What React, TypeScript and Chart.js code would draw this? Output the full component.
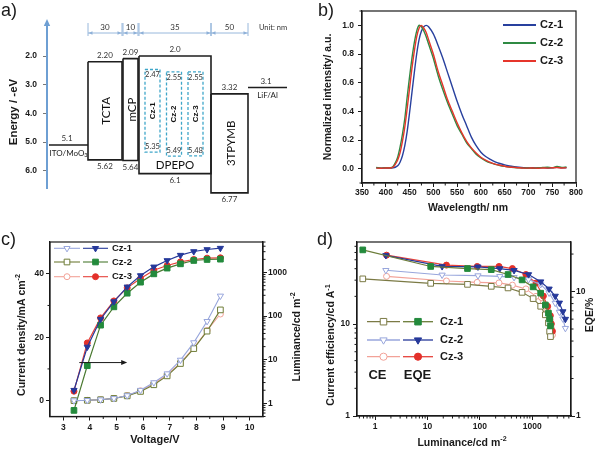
import React, { useEffect, useRef } from "react";
import { Chart, registerables } from "chart.js";

Chart.register(...registerables);

const SANS = '"Liberation Sans", Arial, Helvetica, sans-serif';
const HUM = 'Lato, "Open Sans", "Liberation Sans", sans-serif';
const INK = "#1a1a1a";

/* ================= a) energy level diagram ================= */
const layerNames = ["ITO/MoO_{3}", "TCTA", "mCP", "DPEPO", "3TPYMB", "LiF/Al"];
const layerLumo = [5.1, 2.2, 2.09, 2.0, 3.32, 3.1];
const layerHomo: (number | null)[] = [null, 5.62, 5.64, 6.1, 6.77, null];
const lumoLabels = ["5.1", "2.20", "2.09", "2.0", "3.32", "3.1"];
const homoLabels = ["", "5.62", "5.64", "6.1", "6.77", ""];
const layerThickness: (number | null)[] = [null, 30, 10, 35, 50, null];
const layerSpan = [39, 34, 15, 72, 37, 39]; // schematic widths
const layerGap = [0, 0, 1, 1, 0, 0];
const emitterNames = ["Cz-1", "Cz-2", "Cz-3"];
const emitterLumo = [2.47, 2.55, 2.55];
const emitterHomo = [5.35, 5.49, 5.48];
const emitterLumoLabels = ["2.47", "2.55", "2.55"];
const emitterHomoLabels = ["5.35", "5.49", "5.48"];
const energyTicks = [2, 3, 4, 5, 6];

/* ================= b) EL spectra ================= */
const wavelengths = [380, 390, 400, 410, 415, 420, 425, 430, 435, 440, 445, 450, 455, 460, 465, 470, 475, 480, 485, 490,
  500, 510, 520, 530, 540, 550, 560, 570, 580, 590, 600, 610, 620, 630, 640, 650, 660, 670, 680, 690, 700, 710, 720, 730, 740, 750, 760, 770, 780];
const specCz1 = [0.006, 0.004, 0.005, 0.004, 0.006, 0.01, 0.02, 0.045, 0.09, 0.16, 0.26, 0.39, 0.53, 0.67, 0.8, 0.9, 0.96, 0.99, 1.0, 0.99,
  0.94, 0.86, 0.77, 0.67, 0.57, 0.47, 0.38, 0.3, 0.22, 0.16, 0.115, 0.085, 0.065, 0.048, 0.036, 0.026, 0.019, 0.014, 0.01, 0.007, 0.005, 0.006, 0.004, 0.007, 0.005, 0.006, 0.009, 0.006, 0.007];
const specCz2 = [0.008, 0.004, 0.007, 0.006, 0.014, 0.04, 0.08, 0.15, 0.24, 0.35, 0.5, 0.64, 0.77, 0.88, 0.96, 1.0, 0.99, 0.96, 0.92, 0.87,
  0.77, 0.65, 0.55, 0.46, 0.38, 0.3, 0.24, 0.18, 0.14, 0.1, 0.075, 0.055, 0.04, 0.03, 0.022, 0.016, 0.011, 0.008, 0.006, 0.004, 0.005, 0.003, 0.006, 0.008, 0.01, 0.007, 0.015, 0.009, 0.012];
const specCz3 = [0.004, 0.003, 0.005, 0.005, 0.01, 0.03, 0.06, 0.11, 0.19, 0.29, 0.42, 0.56, 0.7, 0.82, 0.92, 0.98, 1.0, 0.98, 0.95, 0.9,
  0.8, 0.68, 0.58, 0.48, 0.4, 0.32, 0.25, 0.19, 0.145, 0.11, 0.08, 0.06, 0.044, 0.032, 0.024, 0.017, 0.012, 0.009, 0.006, 0.004, 0.004, 0.005, 0.003, 0.005, 0.004, 0.006, 0.008, 0.005, 0.006];
const bXTicks = [350, 400, 450, 500, 550, 600, 650, 700, 750, 800];
const bYTicks = [0, 0.2, 0.4, 0.6, 0.8, 1.0];

/* ================= c) J-V-L ================= */
const voltage = [3.4, 3.9, 4.4, 4.9, 5.4, 5.9, 6.4, 6.9, 7.4, 7.9, 8.4, 8.9];
const jCz1 = [0.0, 0.1, 0.3, 0.7, 1.6, 3.3, 5.7, 8.5, 12.8, 18.3, 25.0, 33.0];
const jCz2 = [0.0, 0.1, 0.3, 0.7, 1.5, 2.9, 5.0, 7.8, 11.7, 16.4, 21.9, 28.6];
const jCz3 = [0.0, 0.1, 0.3, 0.7, 1.6, 3.1, 5.3, 8.1, 11.9, 16.6, 22.1, 27.3];
const lumCz1 = [2.0, 19.6, 85, 215, 468, 851, 1346, 1884, 2495, 3030, 3365, 3612];
const lumCz2 = [0.69, 7.3, 62, 163, 335, 599, 930, 1260, 1578, 1884, 1985, 2020];
const lumCz3 = [1.9, 24.3, 91, 223, 444, 728, 1130, 1445, 1754, 1985, 2133, 2172];
const cXTicks = [3, 4, 5, 6, 7, 8, 9, 10];
const cLeftTicks = [0, 20, 40];
const cRightTicks = [1, 10, 100, 1000];

/* ================= d) CE / EQE ================= */
const dLumCz1 = [0.58, 11.5, 58, 165, 345, 640, 1040, 1450, 1780, 2040, 2150, 2230];
const ceCz1 = [31, 27.7, 27, 25.7, 24.7, 22.1, 18.9, 15.6, 12.6, 10.3, 8.3, 7.3];
const eqeCz1 = [21.6, 15.9, 15.3, 15.0, 13.7, 12.4, 10.9, 9.7, 7.8, 6.7, 6.0, 5.3];
const dLumCz2 = [1.6, 19, 92, 240, 450, 850, 1450, 2100, 2750, 3300, 3850, 4300];
const ceCz2 = [38.4, 34.2, 33.6, 33.0, 32.2, 30.5, 27.0, 21.8, 16.9, 13.5, 11.4, 9.0];
const eqeCz2 = [19.5, 15.9, 15.8, 15.3, 14.8, 13.7, 12.0, 10.5, 9.2, 8.1, 6.9, 6.0];
const dLumCz3 = [1.65, 23, 89, 232, 418, 757, 1180, 1630, 1970, 2220, 2320, 2430];
const ceCz3 = [33.0, 29.4, 28.4, 28.0, 26.5, 24.1, 20.0, 16.9, 14.1, 11.1, 9.0, 7.6];
const eqeCz3 = [19.6, 16.3, 15.9, 15.9, 15.3, 13.7, 11.7, 9.2, 7.6, 6.4, 5.5, 4.8];
const dXTicks = [1, 10, 100, 1000];
const dLeftTicks = [1, 10];
const dRightTicks = [1, 10];

/* ================= helpers ================= */
function parseRich(s: string) {
  const segs: { t: string; k: number }[] = [];
  let i = 0;
  let buf = "";
  while (i < s.length) {
    if ((s[i] === "^" || s[i] === "_") && s[i + 1] === "{") {
      if (buf) segs.push({ t: buf, k: 0 });
      buf = "";
      const end = s.indexOf("}", i);
      segs.push({ t: s.slice(i + 2, end), k: s[i] === "^" ? 1 : -1 });
      i = end + 1;
    } else {
      buf += s[i];
      i++;
    }
  }
  if (buf) segs.push({ t: buf, k: 0 });
  return segs;
}

function drawText(ctx: any, s: string, x: number, y: number, o: any) {
  const segs = parseRich(s);
  const fam = o.family || SANS;
  const w = o.bold ? "bold " : "";
  const fontFor = (k: number) => `${w}${k ? o.size * 0.68 : o.size}px ${fam}`;
  let total = 0;
  const widths = segs.map((sg) => {
    ctx.font = fontFor(sg.k);
    const m = ctx.measureText(sg.t).width;
    total += m;
    return m;
  });
  ctx.save();
  ctx.translate(x, y);
  if (o.rot) ctx.rotate((o.rot * Math.PI) / 180);
  ctx.fillStyle = o.color || INK;
  ctx.textBaseline = "middle";
  ctx.textAlign = "left";
  let cx = o.align === "left" ? 0 : o.align === "right" ? -total : -total / 2;
  segs.forEach((sg, i) => {
    ctx.font = fontFor(sg.k);
    const dy = sg.k === 1 ? -o.size * 0.35 : sg.k === -1 ? o.size * 0.3 : 0;
    ctx.fillText(sg.t, cx, dy);
    cx += widths[i];
  });
  ctx.restore();
}

function arrowHead(ctx: any, x: number, y: number, ang: number, len: number, half: number, color: string) {
  ctx.save();
  ctx.translate(x, y);
  ctx.rotate(ang);
  ctx.beginPath();
  ctx.moveTo(0, 0);
  ctx.lineTo(-len, -half);
  ctx.lineTo(-len, half);
  ctx.closePath();
  ctx.fillStyle = color;
  ctx.fill();
  ctx.restore();
}

function frame(chart: any) {
  const { ctx, chartArea: a } = chart;
  ctx.save();
  ctx.strokeStyle = INK;
  ctx.lineWidth = 1.2;
  ctx.strokeRect(a.left, a.top, a.right - a.left, a.bottom - a.top);
  ctx.restore();
}

function minor(chart: any, id: string, vals: number[], side: string, len = 2.5) {
  const s = chart.scales[id];
  const { ctx, chartArea: a } = chart;
  ctx.save();
  ctx.strokeStyle = INK;
  ctx.lineWidth = 1;
  ctx.beginPath();
  vals.forEach((v) => {
    if (v < s.min || v > s.max) return;
    const p = s.getPixelForValue(v);
    if (side === "bottom") {
      ctx.moveTo(p, a.bottom);
      ctx.lineTo(p, a.bottom + len);
    } else if (side === "left") {
      ctx.moveTo(a.left, p);
      ctx.lineTo(a.left - len, p);
    } else {
      ctx.moveTo(a.right, p);
      ctx.lineTo(a.right + len, p);
    }
  });
  ctx.stroke();
  ctx.restore();
}

function logMinors(min: number, max: number) {
  const out: number[] = [];
  for (let k = Math.floor(Math.log10(min)); k <= Math.ceil(Math.log10(max)); k++) {
    for (let m = 2; m <= 9; m++) out.push(m * Math.pow(10, k));
  }
  return out;
}

function marker(ctx: any, style: string, x: number, y: number, r: number, fill: string, stroke: string, rot: number) {
  ctx.save();
  ctx.beginPath();
  if (style === "rect") {
    const h = r * Math.SQRT1_2;
    ctx.rect(x - h, y - h, 2 * h, 2 * h);
  } else if (style === "circle") {
    ctx.arc(x, y, r, 0, Math.PI * 2);
  } else {
    let rad = (rot * Math.PI) / 180;
    ctx.moveTo(x + Math.sin(rad) * r, y - Math.cos(rad) * r);
    rad += (2 * Math.PI) / 3;
    ctx.lineTo(x + Math.sin(rad) * r, y - Math.cos(rad) * r);
    rad += (2 * Math.PI) / 3;
    ctx.lineTo(x + Math.sin(rad) * r, y - Math.cos(rad) * r);
    ctx.closePath();
  }
  ctx.fillStyle = fill;
  ctx.fill();
  ctx.strokeStyle = stroke;
  ctx.lineWidth = 1;
  ctx.stroke();
  ctx.restore();
}

function axisCfg(o: any) {
  return {
    type: o.type,
    position: o.position,
    min: o.min,
    max: o.max,
    reverse: !!o.reverse,
    afterBuildTicks: (s: any) => {
      s.ticks = o.ticks.map((v: number) => ({ value: v }));
    },
    afterFit: o.fit,
    ticks: {
      autoSkip: false,
      maxRotation: 0,
      minRotation: 0,
      padding: o.pad,
      color: INK,
      font: { size: o.size, weight: "bold", family: SANS },
      callback: (v: any) => o.fmt(Number(v)),
    },
    grid: { display: true, drawOnChartArea: false, drawTicks: true, tickLength: 4, color: INK, tickColor: o.tickColor || INK, tickWidth: 1 },
    border: { display: true, color: o.borderColor || INK, width: o.borderWidth || 1.2 },
  };
}

const baseOptions = {
  responsive: false,
  maintainAspectRatio: false,
  animation: false,
  devicePixelRatio: 1,
  events: [],
  plugins: { legend: { display: false }, tooltip: { enabled: false } },
};

/* ================= panel a config ================= */
function layerExtents() {
  const out: number[][] = [];
  let cur = 2;
  layerSpan.forEach((w, i) => {
    cur += layerGap[i];
    out.push([cur, cur + w]);
    cur += w;
  });
  return out;
}

function emitterExtents(ext: number[][]) {
  const dp = ext[3];
  return emitterNames.map((_, i) => {
    const x0 = dp[0] + 6 + i * 21.5;
    return [x0, x0 + 15];
  });
}

function cfgA() {
  const ext = layerExtents();
  const em = emitterExtents(ext);
  const ds: any[] = [];
  layerNames.forEach((_, i) => {
    const [x0, x1] = ext[i];
    const h = layerHomo[i];
    const l = layerLumo[i];
    const pts =
      h == null
        ? [{ x: x0, y: l }, { x: x1, y: l }]
        : [{ x: x0, y: l }, { x: x1, y: l }, { x: x1, y: h }, { x: x0, y: h }, { x: x0, y: l }];
    ds.push({ data: pts, borderColor: "#1e1e1e", borderWidth: 1.6, pointRadius: 0, clip: false, tension: 0, borderJoinStyle: "miter" });
  });
  emitterNames.forEach((_, i) => {
    const [x0, x1] = em[i];
    const l = emitterLumo[i];
    const h = emitterHomo[i];
    ds.push({
      data: [{ x: x0, y: l }, { x: x1, y: l }, { x: x1, y: h }, { x: x0, y: h }, { x: x0, y: l }],
      borderColor: "#3fa6c9",
      borderWidth: 1.3,
      borderDash: [3, 2],
      pointRadius: 0,
      clip: false,
      tension: 0,
    });
  });

  const aPlugin = {
    id: "aDecor",
    afterDraw(chart: any) {
      const { ctx, chartArea: ca, scales } = chart;
      const X = (v: number) => scales.x.getPixelForValue(v);
      const Y = (v: number) => scales.y.getPixelForValue(v);
      // axis arrow
      arrowHead(ctx, ca.left, ca.top - 4, -Math.PI / 2, 7, 3.2, "#6e9fd3");
      // dimension lines
      const dimY = ca.top + 10;
      ctx.save();
      ctx.strokeStyle = "#8db0d8";
      ctx.lineWidth = 0.9;
      layerThickness.forEach((t, i) => {
        if (t == null) return;
        const a = X(ext[i][0]);
        const b = X(ext[i][1]);
        ctx.beginPath();
        ctx.moveTo(a, dimY);
        ctx.lineTo(b, dimY);
        ctx.moveTo(a, ca.top);
        ctx.lineTo(a, dimY + 3);
        ctx.moveTo(b, ca.top);
        ctx.lineTo(b, dimY + 3);
        ctx.stroke();
        arrowHead(ctx, a + 0.5, dimY, Math.PI, 4, 1.8, "#8db0d8");
        arrowHead(ctx, b - 0.5, dimY, 0, 4, 1.8, "#8db0d8");
        drawText(ctx, String(t), (a + b) / 2, ca.top + 4, { size: 8, color: "#333", family: HUM });
      });
      ctx.restore();
      drawText(ctx, "Unit: nm", X(ext[4][1]) + 25, ca.top + 4.5, { size: 7.5, color: "#333", family: HUM });
      // layer labels
      layerNames.forEach((n, i) => {
        const [x0, x1] = ext[i];
        const cx = X((x0 + x1) / 2);
        const yt = Y(layerLumo[i]);
        const h = layerHomo[i];
        if (h == null) {
          drawText(ctx, lumoLabels[i], cx - 1.5, yt - 6.5, { size: 8, color: "#333", family: HUM });
          drawText(ctx, n, cx, yt + 8, { size: 8, color: "#222", family: HUM });
        } else {
          const yb = Y(h);
          drawText(ctx, lumoLabels[i], cx, yt - 6.5, { size: 8, color: "#333", family: HUM });
          drawText(ctx, homoLabels[i], cx, yb + 6.5, { size: 8, color: "#333", family: HUM });
          if (X(x1) - X(x0) > 50) {
            drawText(ctx, n, cx, yb - 8.5, { size: 11.5, color: "#111", family: HUM });
          } else {
            drawText(ctx, n, cx + 1.5, (yt + yb) / 2, { size: 11.5, color: "#111", family: HUM, rot: -90 });
          }
        }
      });
      // emitters
      emitterNames.forEach((n, i) => {
        const [x0, x1] = em[i];
        const cx = X((x0 + x1) / 2);
        const yt = Y(emitterLumo[i]);
        const yb = Y(emitterHomo[i]);
        drawText(ctx, emitterLumoLabels[i], cx, yt + 5.5, { size: 7.5, color: "#333", family: HUM });
        drawText(ctx, emitterHomoLabels[i], cx, yb - 5.5, { size: 7.5, color: "#333", family: HUM });
        drawText(ctx, n, cx, (yt + yb) / 2, { size: 8, bold: true, color: "#111", rot: -90 });
      });
      drawText(ctx, "Energy / -eV", 14, 112, { size: 11.5, bold: true, rot: -90 });
      drawText(ctx, "a)", 1, 11, { size: 18, align: "left" });
    },
  };

  return {
    type: "line",
    data: { datasets: ds },
    options: {
      ...baseOptions,
      layout: { padding: { top: 23, right: 10, bottom: 37, left: 0 } },
      scales: {
        x: { type: "linear", display: false, min: 0, max: 243 },
        y: axisCfg({
          type: "linear",
          position: "left",
          min: 0.85,
          max: 6.6,
          reverse: true,
          ticks: energyTicks,
          fmt: (v: number) => v.toFixed(1),
          size: 8.5,
          pad: 6,
          fit: (s: any) => {
            s.width = 47;
          },
          borderColor: "#6e9fd3",
          borderWidth: 2,
          tickColor: "#777",
        }),
      },
    },
    plugins: [aPlugin],
  };
}

/* ================= panel b config ================= */
const bSeries = [
  { name: "Cz-1", vals: specCz1, color: "#28409e" },
  { name: "Cz-2", vals: specCz2, color: "#2f8a43" },
  { name: "Cz-3", vals: specCz3, color: "#e6352b" },
];

function cfgB() {
  const ds = bSeries
    .map((s) => ({
      data: wavelengths.map((w, i) => ({ x: w, y: s.vals[i] })),
      borderColor: s.color,
      borderWidth: 1.4,
      pointRadius: 0,
      tension: 0.3,
    }))
    .reverse();
  const plugin = {
    id: "bDecor",
    afterDraw(chart: any) {
      const { ctx } = chart;
      frame(chart);
      minor(chart, "x", bXTicks.slice(0, -1).map((v) => v + 25), "bottom", 2.5);
      minor(chart, "y", [-0.1, 0.1, 0.3, 0.5, 0.7, 0.9, 1.1], "left", 2.5);
      bSeries.forEach((s, i) => {
        const y = 25 + i * 18;
        ctx.save();
        ctx.strokeStyle = s.color;
        ctx.lineWidth = 2;
        ctx.beginPath();
        ctx.moveTo(203, y);
        ctx.lineTo(236, y);
        ctx.stroke();
        ctx.restore();
        drawText(ctx, s.name, 240, y, { size: 11, bold: true, align: "left" });
      });
      drawText(ctx, "Normalized intensity/ a.u.", 28, 97, { size: 10.5, bold: true, rot: -90 });
      drawText(ctx, "Wavelength/ nm", 168, 208, { size: 10.5, bold: true });
      drawText(ctx, "b)", 18, 11, { size: 18, align: "left" });
    },
  };
  return {
    type: "line",
    data: { datasets: ds },
    options: {
      ...baseOptions,
      layout: { padding: { top: 11, right: 24, bottom: 0, left: 0 } },
      scales: {
        x: axisCfg({ type: "linear", position: "bottom", min: 350, max: 800, ticks: bXTicks, fmt: (v: number) => String(v), size: 8.5, pad: 1, fit: (s: any) => { s.height = 42; } }),
        y: axisCfg({ type: "linear", position: "left", min: -0.1, max: 1.1, ticks: bYTicks, fmt: (v: number) => v.toFixed(1), size: 8.5, pad: 4, fit: (s: any) => { s.width = 62; } }),
      },
    },
    plugins: [plugin],
  };
}

/* ================= panel c config ================= */
const cSeries = [
  { name: "Cz-1", j: jCz1, lum: lumCz1, style: "triangle", rot: 180, r: 3.6, openColor: "#98a6dc", fillLine: "#26399a", fillColor: "#26399a" },
  { name: "Cz-2", j: jCz2, lum: lumCz2, style: "rect", rot: 0, r: 4, openColor: "#6f7d38", fillLine: "#4b7a32", fillColor: "#238a3c" },
  { name: "Cz-3", j: jCz3, lum: lumCz3, style: "circle", rot: 0, r: 3, openColor: "#f2a298", fillLine: "#e6423a", fillColor: "#e3302a" },
];
const cArrowFrom = { x: 3.6, y: 12 };
const cArrowTo = { x: 5.4, y: 12 };

function cfgC() {
  const ds: any[] = [];
  cSeries.forEach((s) => {
    ds.push({
      data: voltage.map((v, i) => ({ x: v, y: s.lum[i] })),
      yAxisID: "yR",
      borderColor: s.fillLine,
      borderWidth: 1.2,
      pointStyle: s.style,
      pointRotation: s.rot,
      pointRadius: s.r,
      pointBackgroundColor: s.fillColor,
      pointBorderColor: s.fillColor,
      pointBorderWidth: 1,
      tension: 0,
    });
    ds.push({
      data: voltage.map((v, i) => ({ x: v, y: s.j[i] })),
      yAxisID: "yL",
      borderColor: s.openColor,
      borderWidth: 1.1,
      pointStyle: s.style,
      pointRotation: s.rot,
      pointRadius: s.r,
      pointBackgroundColor: "#ffffff",
      pointBorderColor: s.openColor,
      pointBorderWidth: 1,
      tension: 0,
    });
  });
  const plugin = {
    id: "cDecor",
    afterDraw(chart: any) {
      const { ctx, scales } = chart;
      frame(chart);
      minor(chart, "x", [3.5, 4.5, 5.5, 6.5, 7.5, 8.5, 9.5], "bottom", 2.5);
      minor(chart, "yL", [10, 30], "left", 2.5);
      minor(chart, "yR", logMinors(0.5, 5000), "right", 2.5);
      // arrow
      const ax0 = scales.x.getPixelForValue(cArrowFrom.x);
      const ax1 = scales.x.getPixelForValue(cArrowTo.x);
      const ay = scales.yL.getPixelForValue(cArrowFrom.y);
      ctx.save();
      ctx.strokeStyle = INK;
      ctx.lineWidth = 1;
      ctx.beginPath();
      ctx.moveTo(ax0, ay);
      ctx.lineTo(ax1 - 3, ay);
      ctx.stroke();
      ctx.restore();
      arrowHead(ctx, ax1, ay, 0, 6, 2.5, INK);
      // legend
      cSeries.forEach((s, i) => {
        const y = [23.3, 37, 51.7][i];
        ctx.save();
        ctx.lineWidth = 1.1;
        ctx.strokeStyle = s.openColor;
        ctx.beginPath();
        ctx.moveTo(54, y);
        ctx.lineTo(80, y);
        ctx.stroke();
        ctx.strokeStyle = s.fillLine;
        ctx.beginPath();
        ctx.moveTo(83, y);
        ctx.lineTo(108, y);
        ctx.stroke();
        ctx.restore();
        marker(ctx, s.style, 67, y, s.r, "#fff", s.openColor, s.rot);
        marker(ctx, s.style, 95.5, y, s.r, s.fillColor, s.fillColor, s.rot);
        drawText(ctx, s.name, 112, y, { size: 9.5, bold: true, align: "left" });
      });
      drawText(ctx, "Current density/mA cm^{-2}", 22, 110, { size: 10.5, bold: true, rot: -90 });
      drawText(ctx, "Luminance/cd m^{-2}", 297, 112, { size: 10.5, bold: true, rot: -90 });
      drawText(ctx, "Voltage/V", 155, 215, { size: 11, bold: true });
      drawText(ctx, "c)", 1, 15, { size: 18, align: "left" });
    },
  };
  return {
    type: "line",
    data: { datasets: ds },
    options: {
      ...baseOptions,
      layout: { padding: { top: 17, right: 0, bottom: 0, left: 0 } },
      scales: {
        x: axisCfg({ type: "linear", position: "bottom", min: 2.5, max: 10.5, ticks: cXTicks, fmt: (v: number) => String(v), size: 8.5, pad: 2, fit: (s: any) => { s.height = 33.5; } }),
        yL: axisCfg({ type: "linear", position: "left", min: -5, max: 50, ticks: cLeftTicks, fmt: (v: number) => String(v), size: 8.5, pad: 2, fit: (s: any) => { s.width = 50; } }),
        yR: axisCfg({ type: "logarithmic", position: "right", min: 0.5, max: 5000, ticks: cRightTicks, fmt: (v: number) => String(v), size: 8.5, pad: 1, fit: (s: any) => { s.width = 47; } }),
      },
    },
    plugins: [plugin],
  };
}

/* ================= panel d config ================= */
const dSeries = [
  { name: "Cz-1", L: dLumCz1, ce: ceCz1, eqe: eqeCz1, style: "rect", rot: 0, r: 4, openColor: "#7b7a45", fillLine: "#6b7c38", fillColor: "#238a3c" },
  { name: "Cz-2", L: dLumCz2, ce: ceCz2, eqe: eqeCz2, style: "triangle", rot: 180, r: 3.6, openColor: "#98a6dc", fillLine: "#26399a", fillColor: "#26399a" },
  { name: "Cz-3", L: dLumCz3, ce: ceCz3, eqe: eqeCz3, style: "circle", rot: 0, r: 3, openColor: "#f2a298", fillLine: "#e6423a", fillColor: "#e3302a" },
];

function cfgD() {
  const ds: any[] = [];
  dSeries.forEach((s) => {
    ds.push({
      data: s.L.map((l, i) => ({ x: l, y: s.eqe[i] })),
      yAxisID: "yR",
      borderColor: s.fillLine,
      borderWidth: 1.2,
      pointStyle: s.style,
      pointRotation: s.rot,
      pointRadius: s.r,
      pointBackgroundColor: s.fillColor,
      pointBorderColor: s.fillColor,
      pointBorderWidth: 1,
      tension: 0,
    });
    ds.push({
      data: s.L.map((l, i) => ({ x: l, y: s.ce[i] })),
      yAxisID: "yL",
      borderColor: s.openColor,
      borderWidth: 1.1,
      pointStyle: s.style,
      pointRotation: s.rot,
      pointRadius: s.r,
      pointBackgroundColor: "#ffffff",
      pointBorderColor: s.openColor,
      pointBorderWidth: 1,
      tension: 0,
    });
  });
  const plugin = {
    id: "dDecor",
    afterDraw(chart: any) {
      const { ctx } = chart;
      frame(chart);
      minor(chart, "x", logMinors(0.45, 5500), "bottom", 2.5);
      minor(chart, "yL", logMinors(1, 78), "left", 2.5);
      minor(chart, "yR", logMinors(1, 25), "right", 2.5);
      dSeries.forEach((s, i) => {
        const y = [96.7, 115, 131.7][i];
        ctx.save();
        ctx.lineWidth = 1.3;
        ctx.strokeStyle = s.openColor;
        ctx.beginPath();
        ctx.moveTo(67, y);
        ctx.lineTo(100, y);
        ctx.stroke();
        ctx.strokeStyle = s.fillLine;
        ctx.beginPath();
        ctx.moveTo(103, y);
        ctx.lineTo(133, y);
        ctx.stroke();
        ctx.restore();
        marker(ctx, s.style, 83.5, y, s.r + 0.6, "#fff", s.openColor, s.rot);
        marker(ctx, s.style, 118, y, s.r + 0.6, s.fillColor, s.fillColor, s.rot);
        drawText(ctx, s.name, 140, y, { size: 11, bold: true, align: "left" });
      });
      drawText(ctx, "CE", 77.5, 150, { size: 13, bold: true });
      drawText(ctx, "EQE", 117.5, 150, { size: 13, bold: true });
      drawText(ctx, "Current efficiency/cd A^{-1}", 31.5, 120, { size: 10.5, bold: true, rot: -90 });
      drawText(ctx, "EQE/%", 290, 90, { size: 10.5, bold: true, rot: -90 });
      drawText(ctx, "Luminance/cd m^{-2}", 162, 218, { size: 10.5, bold: true });
      drawText(ctx, "d)", 17, 15, { size: 18, align: "left" });
    },
  };
  return {
    type: "line",
    data: { datasets: ds },
    options: {
      ...baseOptions,
      layout: { padding: { top: 17, right: 0, bottom: 0, left: 0 } },
      scales: {
        x: axisCfg({ type: "logarithmic", position: "bottom", min: 0.45, max: 5500, ticks: dXTicks, fmt: (v: number) => String(v), size: 8.5, pad: 2, fit: (s: any) => { s.height = 34; } }),
        yL: axisCfg({ type: "logarithmic", position: "left", min: 1, max: 78, ticks: dLeftTicks, fmt: (v: number) => String(v), size: 8.5, pad: 3, fit: (s: any) => { s.width = 57; } }),
        yR: axisCfg({ type: "logarithmic", position: "right", min: 1, max: 25, ticks: dRightTicks, fmt: (v: number) => String(v), size: 8.5, pad: 1, fit: (s: any) => { s.width = 29; } }),
      },
    },
    plugins: [plugin],
  };
}

/* ================= component ================= */
export default function App() {
  const ra = useRef<HTMLCanvasElement>(null);
  const rb = useRef<HTMLCanvasElement>(null);
  const rc = useRef<HTMLCanvasElement>(null);
  const rd = useRef<HTMLCanvasElement>(null);

  useEffect(() => {
    const charts = [
      new Chart(ra.current as any, cfgA() as any),
      new Chart(rb.current as any, cfgB() as any),
      new Chart(rc.current as any, cfgC() as any),
      new Chart(rd.current as any, cfgD() as any),
    ];
    return () => charts.forEach((c) => c.destroy());
  }, []);

  const pos = (l: number, t: number, w: number, h: number): any => ({ position: "absolute", left: l, top: t, width: w, height: h });
  return (
    <div style={{ position: "fixed", left: 0, top: 0, width: 600, height: 450, background: "#fff", overflow: "hidden" }}>
      <canvas ref={ra} width={300} height={225} style={pos(0, 0, 300, 225)} />
      <canvas ref={rb} width={300} height={225} style={pos(300, 0, 300, 225)} />
      <canvas ref={rc} width={310} height={225} style={pos(0, 225, 310, 225)} />
      <canvas ref={rd} width={300} height={225} style={pos(300, 225, 300, 225)} />
    </div>
  );
}
